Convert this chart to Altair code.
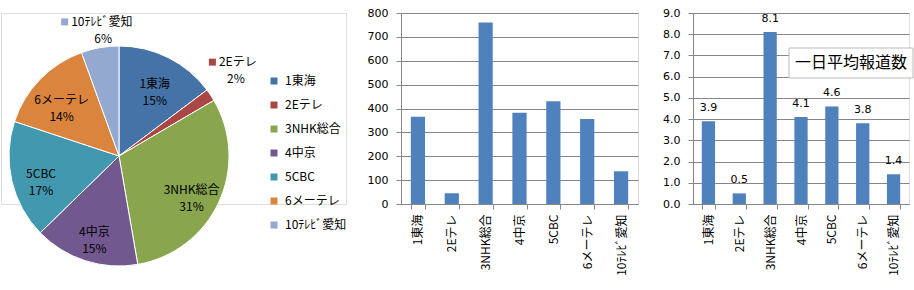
import altair as alt
import pandas as pd

# ---- data ----
categories = ["1東海", "2Eテレ", "3NHK総合", "4中京", "5CBC", "6メーテレ", "10ﾃﾚﾋﾞ愛知"]
counts = [365, 45, 760, 382, 430, 356, 137]
daily_avg = [3.9, 0.5, 8.1, 4.1, 4.6, 3.8, 1.4]
slice_colors = ["#4572A7", "#AA4643", "#89A54E", "#71588F", "#4198AF", "#DB843D", "#93A9CF"]
count_ticks = [0, 100, 200, 300, 400, 500, 600, 700, 800]
avg_ticks = [0, 1, 2, 3, 4, 5, 6, 7, 8, 9]
box_label = "一日平均報道数"

FONT = "Noto Sans CJK JP"
BAR = "#4F81BD"
GRID = "#868686"
CX, CY, R = 118, 143, 110

df = pd.DataFrame({"cat": categories, "count": counts, "avg": daily_avg,
                   "idx": list(range(len(categories)))})

color_enc = alt.Color(
    "cat:N", sort=categories,
    scale=alt.Scale(domain=categories, range=slice_colors),
    legend=alt.Legend(orient="none", legendX=267, legendY=62, title=None,
                      symbolType="square", symbolSize=49, symbolStrokeWidth=0,
                      labelFont=FONT, labelFontSize=12, labelColor="#000",
                      labelOffset=5, rowPadding=12, padding=0),
)

pie_base = (
    alt.Chart(df)
    .transform_joinaggregate(total="sum(count)")
    .transform_window(cum="sum(count)", sort=[alt.SortField("idx")], frame=[None, 0])
    .transform_calculate(
        pct="round(datum.count / datum.total * 100) + '%'",
        mid="(datum.cum - datum.count / 2) / datum.total * 2 * PI",
        outside="datum.count / datum.total < 0.08",
    )
)

arcs = pie_base.mark_arc(radius=R, stroke="white", strokeWidth=1).encode(
    theta=alt.Theta("count:Q", stack=True),
    order=alt.Order("idx:Q"),
    color=color_enc,
    x=alt.value(CX),
    y=alt.value(CY),
)

inside = (
    pie_base.transform_filter("!datum.outside")
    .transform_calculate(
        px=f"{CX} + 80 * sin(datum.mid)",
        py=f"{CY} - 80 * cos(datum.mid)",
        lbl="datum.cat + '\\n' + datum.pct",
    )
    .mark_text(font=FONT, fontSize=12, lineBreak="\n", lineHeight=17, color="#000")
    .encode(x=alt.X("px:Q", scale=None, axis=None),
            y=alt.Y("py:Q", scale=None, axis=None),
            text="lbl:N")
)

outside_base = pie_base.transform_filter("datum.outside").transform_calculate(
    gx=f"{CX} + 132 * sin(datum.mid)",
    gy=f"{CY} - 124 * cos(datum.mid) - 20 * abs(sin(datum.mid))",
    tw="length(datum.cat) * 7.5",
).transform_calculate(
    left="datum.gx - (datum.tw + 10) / 2",
).transform_calculate(
    sqx="datum.left + 3.5",
    tx="datum.left + 10",
    l1y="datum.gy - 8.5",
    l2y="datum.gy + 8.5",
    px2="datum.left + 10 + datum.tw / 2 + 2",
)

out_sq = outside_base.mark_square(size=49, opacity=1).encode(
    x=alt.X("sqx:Q", scale=None, axis=None),
    y=alt.Y("l1y:Q", scale=None, axis=None),
    color=color_enc,
)
out_l1 = outside_base.mark_text(font=FONT, fontSize=12, align="left", color="#000").encode(
    x=alt.X("tx:Q", scale=None, axis=None),
    y=alt.Y("l1y:Q", scale=None, axis=None),
    text="cat:N",
)
out_l2 = outside_base.mark_text(font=FONT, fontSize=12, align="center", color="#000").encode(
    x=alt.X("px2:Q", scale=None, axis=None),
    y=alt.Y("l2y:Q", scale=None, axis=None),
    text="pct:N",
)

pie = alt.layer(arcs, inside, out_sq, out_l1, out_l2).properties(width=345, height=191)


def xaxis():
    return alt.Axis(title=None, labelAngle=-90, labelFont=FONT, labelFontSize=12,
                    labelColor="#000", tickBand="extent", tickSize=5, tickColor=GRID,
                    domainColor=GRID, labelPadding=5, grid=False)


def yaxis(vals, fmt):
    return alt.Axis(title=None, values=vals, format=fmt, labelFont="DejaVu Sans",
                    labelFontSize=11, labelColor="#000", tickSize=5, tickColor=GRID,
                    domainColor=GRID, gridColor=GRID, grid=True, labelPadding=8)


bar1 = alt.Chart(df).mark_bar(color=BAR).encode(
    x=alt.X("cat:N", sort=categories,
            scale=alt.Scale(paddingInner=0.58, paddingOuter=0.29), axis=xaxis()),
    y=alt.Y("count:Q", scale=alt.Scale(domain=[0, 800]), axis=yaxis(count_ticks, "d")),
).properties(width=237, height=191)

b2 = alt.Chart(df).encode(
    x=alt.X("cat:N", sort=categories,
            scale=alt.Scale(paddingInner=0.57, paddingOuter=0.285), axis=xaxis()),
    y=alt.Y("avg:Q", scale=alt.Scale(domain=[0, 9]), axis=yaxis(avg_ticks, ".1f")),
)
bars2 = b2.mark_bar(color=BAR)
vals2 = b2.mark_text(font="DejaVu Sans", fontSize=11, baseline="bottom", dy=-8, color="#000").encode(
    text=alt.Text("avg:Q", format=".1f"))

box_df = pd.DataFrame({"t": [box_label]})
box = alt.Chart(box_df).mark_rect(fill="white", stroke="#BBBBBB", strokeWidth=1).encode(
    x=alt.value(96), x2=alt.value(220), y=alt.value(35), y2=alt.value(65))
box_t = alt.Chart(box_df).mark_text(font=FONT, fontSize=16, color="#000").encode(
    x=alt.value(158), y=alt.value(50), text="t:N")

bar2 = alt.layer(bars2, vals2, box, box_t).properties(width=216, height=191)

chart = alt.hconcat(pie, bar1, bar2, spacing=55, bounds="flush").properties(
    padding={"left": 0, "top": 6, "right": 0, "bottom": 0}
).configure_view(stroke=None).configure(background="white")

chart.save("out.html", embed_options={"renderer": "svg", "actions": False})
